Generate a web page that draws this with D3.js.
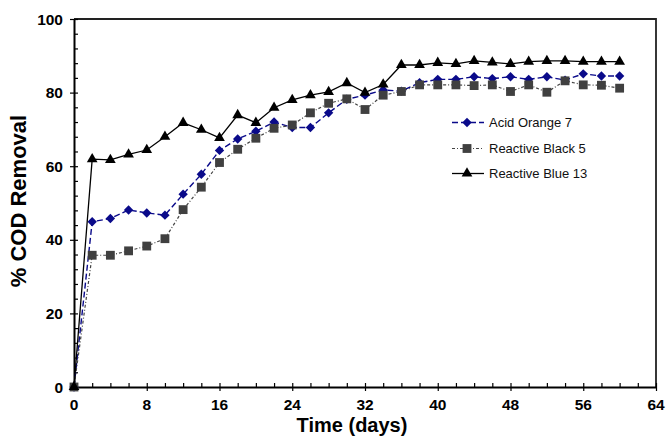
<!DOCTYPE html>
<html>
<head>
<meta charset="utf-8">
<script src="https://cdn.jsdelivr.net/npm/d3@7"></script>
<style>
  body { margin: 0; background: #fff; }
  svg { display: block; font-family: Arial, "Liberation Sans", sans-serif; }
</style>
</head>
<body>
<div id="chart"></div>
<script>
"use strict";

// days sampled every 2 days
const days = [0, 2, 4, 6, 8, 10, 12, 14, 16, 18, 20, 22, 24, 26, 28, 30,
  32, 34, 36, 38, 40, 42, 44, 46, 48, 50, 52, 54, 56, 58, 60]

const acidOrange7 = [0, 44.9, 45.8, 48.1, 47.3, 46.7, 52.4, 57.8, 64.3, 67.4, 69.5,
  72.0, 70.5, 70.5, 74.5, 78.2, 79.3, 80.7, 80.4, 82.7, 83.6, 83.6, 84.3, 83.8,
  84.3, 83.6, 84.3, 83.4, 85.1, 84.5, 84.5]

const reactiveBlack5 = [0, 35.8, 35.8, 37.0, 38.3, 40.3, 48.2, 54.3, 61.0, 64.6, 67.6,
  70.3, 71.2, 74.5, 77.1, 78.3, 75.4, 79.3, 80.3, 82.1, 82.1, 82.1, 81.9, 82.1,
  80.3, 82.1, 80.1, 83.2, 82.1, 82.0, 81.2]

const reactiveBlue13 = [0, 61.9, 61.7, 63.2, 64.4, 68.0, 71.8, 69.9, 67.7, 73.9, 71.8,
  75.9, 78.0, 79.3, 80.2, 82.6, 80.0, 82.2, 87.5, 87.5, 88.1, 87.8, 88.6, 88.2,
  87.8, 88.4, 88.6, 88.6, 88.4, 88.4, 88.4]

const seriesNames = ['Acid Orange 7', 'Reactive Black 5', 'Reactive Blue 13']
const xTicks = [0, 8, 16, 24, 32, 40, 48, 56, 64]
const yTicks = [0, 20, 40, 60, 80, 100]

const W = 667, H = 439
const m = { left: 74, right: 11, top: 19, bottom: 52 }

const styles = [
  { color: '#0a0a8a', marker: '#0a0a8a', dash: '6,3', width: 1.4, sym: 'diamond' },
  { color: '#444', marker: '#404040', dash: '3,2,1,2', width: 1.2, sym: 'square' },
  { color: '#000', marker: '#000', dash: null, width: 1.3, sym: 'triangle' },
]

const series = [acidOrange7, reactiveBlack5, reactiveBlue13].map((vals, i) => ({
  name: seriesNames[i],
  style: styles[i],
  points: days.map((d, j) => [d, vals[j]]),
}))

const svg = d3.select('#chart').append('svg')
  .attr('width', W)
  .attr('height', H)

const x = d3.scaleLinear().domain([0, 64]).range([m.left, W - m.right])
const y = d3.scaleLinear().domain([0, 100]).range([H - m.bottom, m.top])

const symbolPath = sym => {
  if (sym === 'diamond') return d3.symbol(d3.symbolSquare, 44)()
  if (sym === 'square') return d3.symbol(d3.symbolSquare, 78)()
  return d3.symbol(d3.symbolTriangle, 50)()
}
const symbolRotate = sym => sym === 'diamond' ? ' rotate(45)' : ''

// frame (top + right)
svg.append('path')
  .attr('d', `M${x(0)},${y(100)}H${x(64)}V${y(0)}`)
  .attr('fill', 'none')
  .attr('stroke', '#222')
  .attr('stroke-width', 1.8)

// x axis
const xAxis = svg.append('g').attr('transform', `translate(0,${y(0)})`)
xAxis.call(d3.axisBottom(x).tickValues(d3.range(0, 65, 2)).tickSize(0).tickFormat(''))
xAxis.select('.domain').attr('stroke', '#000').attr('stroke-width', 2)
xAxis.selectAll('.tick line')
  .attr('stroke', '#000')
  .attr('stroke-width', 1.2)
  .attr('y1', d => xTicks.includes(d) ? 4 : 0)
  .attr('y2', -4)
xAxis.selectAll('.tick.lbl').data(xTicks).enter()
  .append('text')
  .attr('x', d => x(d))
  .attr('y', 23)
  .attr('text-anchor', 'middle')
  .attr('font-size', 15.5)
  .attr('font-weight', 'bold')
  .attr('fill', '#000')
  .text(d => d)

// y axis
const yAxis = svg.append('g').attr('transform', `translate(${x(0)},0)`)
yAxis.call(d3.axisLeft(y).tickValues(d3.range(0, 101, 4)).tickSize(0).tickFormat(''))
yAxis.select('.domain').attr('stroke', '#000').attr('stroke-width', 2)
yAxis.selectAll('.tick line')
  .attr('stroke', '#000')
  .attr('stroke-width', 1.2)
  .attr('x1', d => yTicks.includes(d) ? -4 : 0)
  .attr('x2', 4)
yAxis.selectAll('.tick.lbl').data(yTicks).enter()
  .append('text')
  .attr('x', -11)
  .attr('y', d => y(d))
  .attr('dy', '0.36em')
  .attr('text-anchor', 'end')
  .attr('font-size', 15.5)
  .attr('font-weight', 'bold')
  .attr('fill', '#000')
  .text(d => d)

// axis titles
svg.append('text')
  .attr('x', 352)
  .attr('y', 432)
  .attr('text-anchor', 'middle')
  .attr('font-size', 20)
  .attr('font-weight', 'bold')
  .text('Time (days)')

svg.append('text')
  .attr('transform', 'translate(26,201) rotate(-90)')
  .attr('text-anchor', 'middle')
  .attr('font-size', 22)
  .attr('font-weight', 'bold')
  .text('% COD Removal')

// lines + markers
const line = d3.line().x(d => x(d[0])).y(d => y(d[1]))

const sG = svg.selectAll('g.series').data(series).enter()
  .append('g').attr('class', 'series')

sG.append('path')
  .attr('d', d => line(d.points))
  .attr('fill', 'none')
  .attr('stroke', d => d.style.color)
  .attr('stroke-width', d => d.style.width)
  .attr('stroke-dasharray', d => d.style.dash)

sG.each(function (s) {
  d3.select(this).selectAll('path.mk').data(s.points).enter()
    .append('path')
    .attr('class', 'mk')
    .attr('d', symbolPath(s.style.sym))
    .attr('transform', d => `translate(${x(d[0])},${y(d[1])})${symbolRotate(s.style.sym)}`)
    .attr('fill', s.style.marker)
})

// legend
const lg = svg.append('g')
const legendRows = [122.5, 148.5, 173.5]
series.forEach((s, i) => {
  const ly = legendRows[i]
  lg.append('line')
    .attr('x1', 452).attr('x2', 484)
    .attr('y1', ly).attr('y2', ly)
    .attr('stroke', s.style.color)
    .attr('stroke-width', s.style.width)
    .attr('stroke-dasharray', s.style.dash)
  lg.append('path')
    .attr('d', symbolPath(s.style.sym))
    .attr('transform', `translate(467,${ly})${symbolRotate(s.style.sym)}`)
    .attr('fill', s.style.marker)
  lg.append('text')
    .attr('x', 489)
    .attr('y', ly + 4.8)
    .attr('font-size', 13)
    .attr('fill', '#111')
    .text(s.name)
})
</script>
</body>
</html>
